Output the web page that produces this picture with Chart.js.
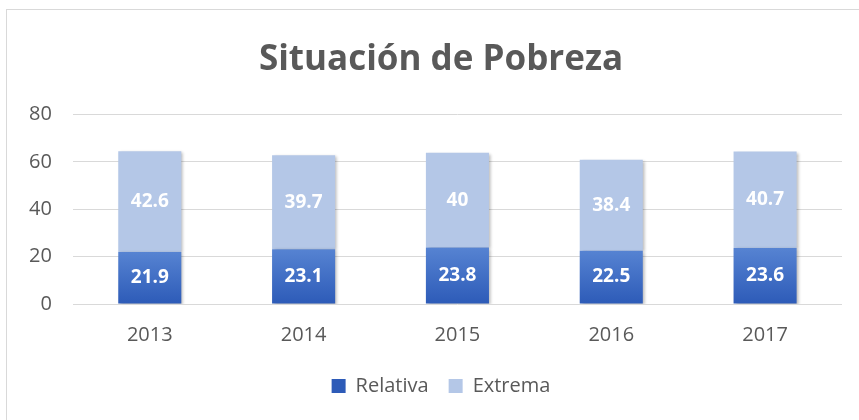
<!DOCTYPE html>
<html>
<head>
<meta charset="utf-8">
<script src="https://cdn.jsdelivr.net/npm/chart.js"></script>
<style>
    body { margin: 0; background: #fff; overflow: hidden; }
    #marco { position: absolute; left: 6px; top: 9px; width: 900px; height: 500px; border: 1px solid #d9d9d9; }
    #grafica-pobreza { position: absolute; left: 0; top: 0; }
</style>
</head>
<body>
<div id="marco"></div>
<canvas id="grafica-pobreza" width="859" height="420"></canvas>
<script>
const anyos = ['2013', '2014', '2015', '2016', '2017'];
const valoresRelativa = [21.9, 23.1, 23.8, 22.5, 23.6];
const valoresExtrema = [42.6, 39.7, 40, 38.4, 40.7];
const ticksY = [0, 20, 40, 60, 80];

const gris = '#595959';
const fuente = "'Open Sans', sans-serif";

// degradado azul de cada barra, de su tope hasta la base
function colorRelativa(ctx) {
    if (ctx.type !== 'data' || !ctx.chart.chartArea) return '#3f6cc4';
    const escala = ctx.chart.scales.y;
    const arriba = escala.getPixelForValue(ctx.parsed.y);
    const abajo = escala.getPixelForValue(0);
    const g = ctx.chart.ctx.createLinearGradient(0, arriba, 0, abajo);
    g.addColorStop(0, '#5683d2');
    g.addColorStop(1, '#2d5bb8');
    return g;
}

// el grafico original es mas ancho que la ventana: titulo y leyenda van algo a la derecha
const centrado = {
    id: 'centrado',
    afterLayout(chart) {
        if (chart.titleBlock) chart.titleBlock.left += 32;
        if (chart.legend) chart.legend.left += 32;
    }
};

const sombra = {
    id: 'sombra',
    beforeDatasetsDraw(chart) {
        const c = chart.ctx;
        c.save();
        c.shadowColor = 'rgba(0,0,0,0.28)';
        c.shadowBlur = 3;
        c.shadowOffsetX = 2;
        c.shadowOffsetY = 1;
    },
    afterDatasetsDraw(chart) {
        chart.ctx.restore();
    }
};

const etiquetas = {
    id: 'etiquetas',
    afterDatasetsDraw(chart) {
        const c = chart.ctx;
        c.save();
        c.fillStyle = '#ffffff';
        c.font = 'bold 19px ' + fuente;
        c.textAlign = 'center';
        c.textBaseline = 'middle';
        chart.data.datasets.forEach((ds, i) => {
            chart.getDatasetMeta(i).data.forEach((barra, j) => {
                c.fillText(String(ds.data[j]), barra.x, (barra.y + barra.base) / 2);
            });
        });
        c.restore();
    }
};

new Chart(document.getElementById('grafica-pobreza'), {
    type: 'bar',
    data: {
        labels: anyos,
        datasets: [{
            label: 'Relativa',
            data: valoresRelativa,
            backgroundColor: colorRelativa
        }, {
            label: 'Extrema',
            data: valoresExtrema,
            backgroundColor: '#b4c7e7'
        }]
    },
    options: {
        responsive: false,
        animation: false,
        datasets: { bar: { categoryPercentage: 1, barPercentage: 0.41 } },
        layout: { padding: { left: 8, right: 17, top: 0, bottom: 14 } },
        plugins: {
            title: {
                display: true,
                text: 'Situación de Pobreza',
                color: gris,
                font: { family: fuente, size: 35, weight: 'bold' },
                padding: { top: 39, bottom: 33.4 }
            },
            legend: {
                position: 'bottom',
                labels: {
                    color: gris,
                    font: { family: fuente, size: 20 },
                    boxWidth: 14,
                    boxHeight: 14,
                    padding: 20
                }
            },
            tooltip: { enabled: false }
        },
        scales: {
            x: {
                stacked: true,
                grid: { display: false, drawTicks: false },
                border: { display: false },
                ticks: { color: gris, font: { family: fuente, size: 20 }, padding: 19 },
                afterFit(s) { s.height = 52; }
            },
            y: {
                stacked: true,
                min: 0,
                max: 80,
                afterBuildTicks(s) { s.ticks = ticksY.map(v => ({ value: v })); },
                grid: { color: '#d9d9d9', drawTicks: false },
                border: { display: false },
                ticks: { color: gris, font: { family: fuente, size: 20 }, padding: 21 }
            }
        }
    },
    plugins: [centrado, sombra, etiquetas]
});
</script>
</body>
</html>
